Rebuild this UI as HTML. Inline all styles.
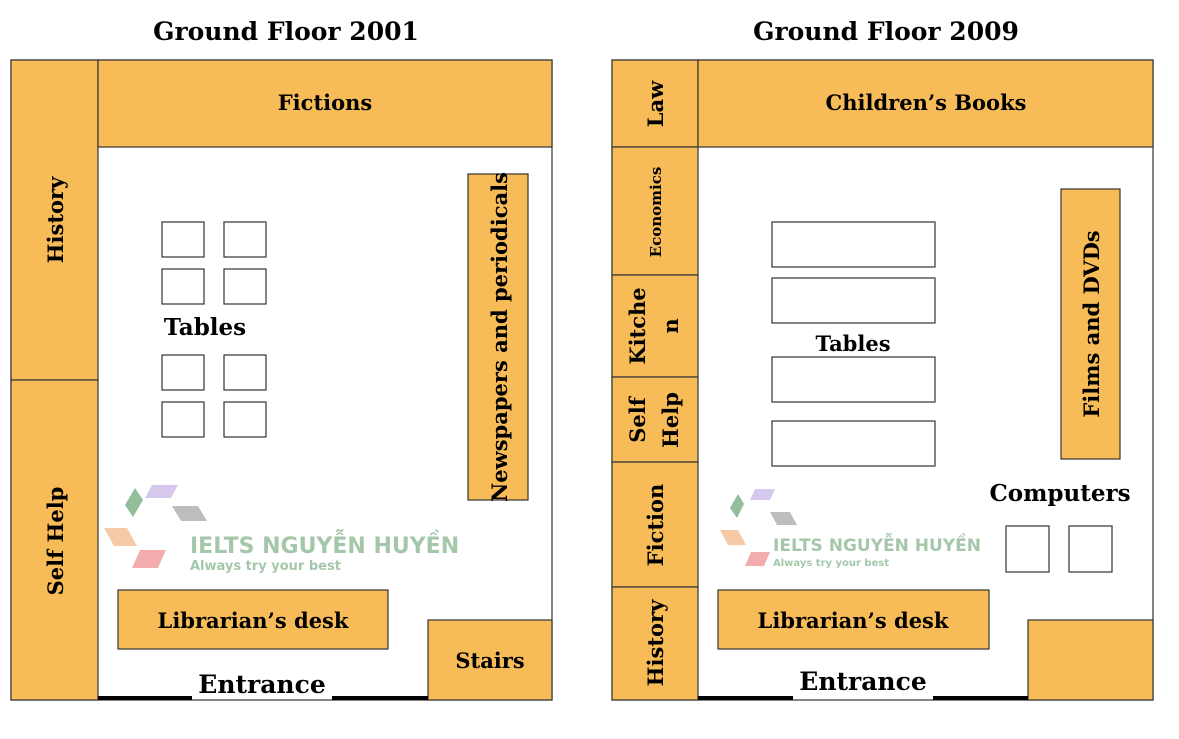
<!DOCTYPE html><html><head><style>body{margin:0;background:#fff}svg{display:block}text{font-family:"DejaVu Serif",serif;font-weight:bold;fill:#000}</style></head><body>
<svg width="1179" height="739" xmlns="http://www.w3.org/2000/svg">
<g stroke="#333" stroke-width="1.2">
<rect x="11" y="60" width="541" height="640" fill="#fff"/>
<rect x="11" y="60" width="87" height="320" fill="#F7BC58"/>
<rect x="11" y="380" width="87" height="320" fill="#F7BC58"/>
<rect x="98" y="60" width="454" height="87" fill="#F7BC58"/>
<rect x="468" y="174" width="60" height="326" fill="#F7BC58"/>
<rect x="118" y="590" width="270" height="59" fill="#F7BC58"/>
<rect x="428" y="620" width="124" height="80" fill="#F7BC58"/>
<g fill="#fff"><rect x="162" y="222" width="42" height="35"/><rect x="224" y="222" width="42" height="35"/><rect x="162" y="269" width="42" height="35"/><rect x="224" y="269" width="42" height="35"/><rect x="162" y="355" width="42" height="35"/><rect x="224" y="355" width="42" height="35"/><rect x="162" y="402" width="42" height="35"/><rect x="224" y="402" width="42" height="35"/></g>
<rect x="612" y="60" width="541" height="640" fill="#fff"/>
<rect x="612" y="60" width="86" height="87" fill="#F7BC58"/>
<rect x="612" y="147" width="86" height="128" fill="#F7BC58"/>
<rect x="612" y="275" width="86" height="102" fill="#F7BC58"/>
<rect x="612" y="377" width="86" height="85" fill="#F7BC58"/>
<rect x="612" y="462" width="86" height="125" fill="#F7BC58"/>
<rect x="612" y="587" width="86" height="113" fill="#F7BC58"/>
<rect x="698" y="60" width="455" height="87" fill="#F7BC58"/>
<rect x="1061" y="189" width="59" height="270" fill="#F7BC58"/>
<rect x="718" y="590" width="271" height="59" fill="#F7BC58"/>
<rect x="1028" y="620" width="125" height="80" fill="#F7BC58"/>
<g fill="#fff"><rect x="772" y="222" width="163" height="45"/><rect x="772" y="278" width="163" height="45"/><rect x="772" y="357" width="163" height="45"/><rect x="772" y="421" width="163" height="45"/><rect x="1006" y="526" width="43" height="46"/><rect x="1069" y="526" width="43" height="46"/></g>
</g>
<g stroke="#000" stroke-width="4"><line x1="98" y1="698" x2="192" y2="698"/><line x1="332" y1="698" x2="428" y2="698"/><line x1="698" y1="698" x2="793" y2="698"/><line x1="933" y1="698" x2="1028" y2="698"/></g>
<g opacity="0.55">
<text x="190" y="553" style="font-family:'DejaVu Sans',sans-serif;fill:#5a9a66" font-size="22">IELTS NGUYỄN HUYỀN</text>
<text x="190" y="570" style="font-family:'DejaVu Sans',sans-serif;fill:#5a9a66" font-size="13">Always try your best</text>
<text x="773" y="551" style="font-family:'DejaVu Sans',sans-serif;fill:#5a9a66" font-size="17">IELTS NGUYỄN HUYỀN</text>
<text x="773" y="566" style="font-family:'DejaVu Sans',sans-serif;fill:#5a9a66" font-size="10">Always try your best</text>
<polygon points="125,505 135,488 143,500 133,517" fill="#3a8a4a"/><polygon points="145,498 152,485 178,485 171,498" fill="#b59ce0"/><polygon points="172,506 198,506 207,521 181,521" fill="#888"/><polygon points="104,528 127,528 137,546 114,546" fill="#f0a060"/><polygon points="132,568 140,550 166,550 158,568" fill="#e86a6a"/>
<polygon points="730,508 738,494 744,504 737,518" fill="#3a8a4a"/><polygon points="750,500 755,489 775,489 770,500" fill="#b59ce0"/><polygon points="770,512 790,512 797,525 777,525" fill="#888"/><polygon points="720,530 738,530 746,545 728,545" fill="#f0a060"/><polygon points="745,566 751,552 770,552 764,566" fill="#e86a6a"/>
</g>
<g text-anchor="middle" font-size="25"><text x="286" y="40">Ground Floor 2001</text><text x="886" y="40">Ground Floor 2009</text></g>
<g text-anchor="middle" font-size="21">
<text x="325" y="110">Fictions</text>
<text x="205" y="335" font-size="23">Tables</text>
<text x="253" y="628">Librarian’s desk</text>
<text x="490" y="668">Stairs</text>
<text x="262" y="693" font-size="25">Entrance</text>
<text transform="translate(63,220) rotate(-90)">History</text>
<text transform="translate(63,541) rotate(-90)">Self Help</text>
<text transform="translate(507,337) rotate(-90)">Newspapers and periodicals</text>
<text x="926" y="110">Children’s Books</text>
<text x="853" y="351">Tables</text>
<text x="1060" y="501" font-size="23">Computers</text>
<text x="853" y="628">Librarian’s desk</text>
<text x="863" y="690" font-size="25">Entrance</text>
<text transform="translate(1099,324) rotate(-90)">Films and DVDs</text>
<text transform="translate(663,104) rotate(-90)">Law</text>
<text transform="translate(661,212) rotate(-90)" font-size="15">Economics</text>
<text transform="translate(645,326) rotate(-90)">Kitche</text>
<text transform="translate(678,326) rotate(-90)">n</text>
<text transform="translate(645,420) rotate(-90)">Self</text>
<text transform="translate(678,420) rotate(-90)">Help</text>
<text transform="translate(663,525) rotate(-90)">Fiction</text>
<text transform="translate(663,643) rotate(-90)">History</text>
</g>
</svg></body></html>
